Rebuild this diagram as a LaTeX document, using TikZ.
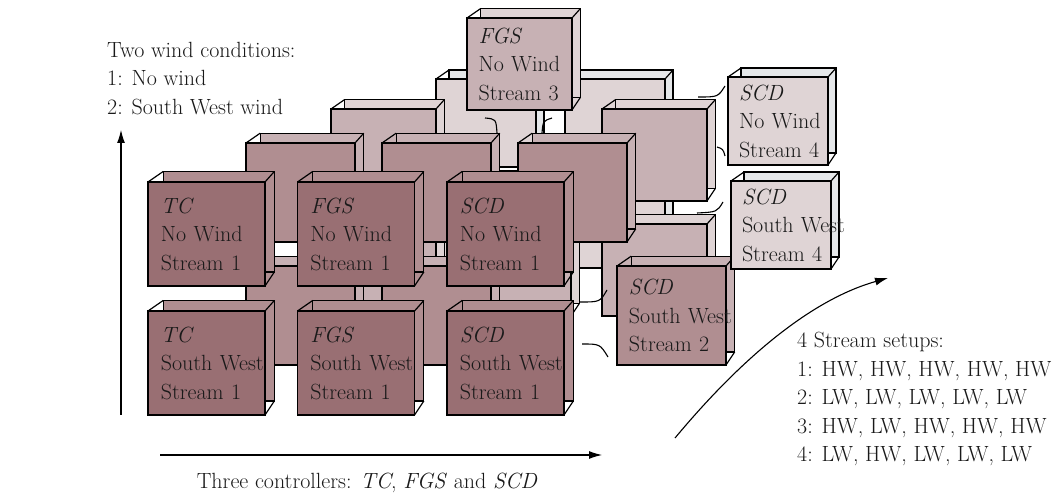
\documentclass[tikz,border=0pt]{standalone}
\usepackage{fontspec}
\usetikzlibrary{arrows.meta}
\definecolor{lay1}{RGB}{153,111,115}
\definecolor{lay2}{RGB}{176,142,145}
\definecolor{lay3}{RGB}{199,177,180}
\definecolor{lay4}{RGB}{223,212,213}
\definecolor{lay5}{RGB}{229,231,233}
\newcommand{\bigfont}{\fontsize{22}{28.5}\selectfont}
\tikzset{
  cubeface/.style={draw, line width=1.2pt, outer sep=0pt, inner ysep=0pt, align=left, font=\bigfont, text=black!90},
  cubeline/.style={line width=1.2pt},
  axis/.style={line width=1.1pt, -{Latex[length=13pt,width=8pt]}},
  pullmark/.style={line width=1.1pt},
  plaintext/.style={align=left, inner sep=0pt, font=\bigfont, text=black!90}
}
% #1 name, #2 left, #3 top, #4 width, #5 height, #6 face colour, #7 side colour, #8 text
\newcommand{\cube}[8]{%
  \pgfmathsetmacro\cubetw{0.78*#4}%
  \filldraw[cubeline, fill=#7] (#2+0.13*#4,#3-0.09*#4) rectangle (#2+1.08*#4,#3+#5-0.12*#4);
  \node[cubeface, fill=#6, minimum width=#4pt, minimum height=#5pt, text width=\cubetw pt, inner xsep=0.11*#4pt] (#1) at (#2+0.5*#4,#3+0.5*#5) {#8};
  \draw[cubeline] (#1.north west) -- ++(0.13*#4,-0.09*#4)
    (#1.north east) -- ++(0.08*#4,-0.09*#4)
    (#1.south east) -- ++(0.08*#4,-0.12*#4);
}
\begin{document}
\begin{tikzpicture}[x=1pt, y=-1pt]
  \useasboundingbox (0,0) rectangle (1053,494);
  % stream 4, the back layer
  \foreach \n/\x/\y in {tcnw/436/79, fgsnw/565/79, tcsw/436/180, fgssw/565/180}
    {\cube{s4\n}{\x}{\y}{100}{88}{lay4}{lay5}{}}
  % stream 3
  \foreach \n/\x/\y in {tcnw/331/109, scdnw/602/109, tcsw/331/224, fgssw/466/224, scdsw/602/224}
    {\cube{s3\n}{\x}{\y}{105}{92}{lay3}{lay4}{}}
  % stream 2
  \foreach \n/\x/\y in {tcnw/246/143, fgsnw/382/143, scdnw/518/143, tcsw/246/266, fgssw/382/266}
    {\cube{s2\n}{\x}{\y}{109}{99}{lay2}{lay3}{}}
  % stream 1, the front layer
  \foreach \c/\cn [count=\i from 0] in {tc/TC, fgs/FGS, scd/SCD}
    \foreach \w/\wn [count=\j from 0] in {nw/No~Wind, sw/South~West}
      {\cube{s1\c\w}{148+149.5*\i}{182+129*\j}{117}{104}{lay1}{lay2}{\textit{\cn}\\\wn\\Stream~1}}
  % pulled out boxes
  \cube{fgsnw3}{467}{18}{105}{92}{lay3}{lay4}{\textit{FGS}\\No~Wind\\Stream~3}
  \cube{scdsw2}{617}{266}{109}{99}{lay2}{lay3}{\textit{SCD}\\South~West\\Stream~2}
  \cube{scdnw4}{728}{77}{100}{88}{lay4}{lay5}{\textit{SCD}\\No~Wind\\Stream~4}
  \cube{scdsw4}{731}{181}{100}{88}{lay4}{lay5}{\textit{SCD}\\South~West\\Stream~4}
  \draw[pullmark] (485,118) .. controls (496,119) .. (497,133);
  \draw[pullmark] (542,133) .. controls (543,121) .. (552,118);
  \draw[pullmark] (698,97) .. controls (718,97) .. (725,86);
  \draw[pullmark] (717,147) .. controls (723,149) .. (725,156);
  \draw[pullmark] (697,213) .. controls (717,212) .. (723,202);
  \draw[pullmark] (580,302) .. controls (600,302) .. (607,290);
  \draw[pullmark] (582,344) .. controls (600,344) .. (608,357);
  % axes
  \coordinate (windbot) at (121,415);
  \coordinate (windtop) at (121,130);
  \coordinate (ctrlleft) at (160,455);
  \coordinate (ctrlright) at (602,455);
  \coordinate (streambot) at (675,438);
  \coordinate (streamtop) at (888,278);
  \draw[axis] (windbot) -- (windtop);
  \draw[axis] (ctrlleft) -- (ctrlright);
  \draw[axis] (streambot) .. controls (740,360) and (810,300) .. (streamtop);
  \node[plaintext, anchor=north west] (windtext) at (107,42) {Two wind conditions:\\1: No wind\\2: South West wind};
  \node[plaintext, anchor=base] (ctrltext) at (367,488) {Three controllers: \textit{TC}, \textit{FGS} and \textit{SCD}};
  \node[plaintext, anchor=north west] (streamtext) at (797,332) {4 Stream setups:\\1: HW, HW, HW, HW, HW\\2: LW, LW, LW, LW, LW\\3: HW, LW, HW, HW, HW\\4: LW, HW, LW, LW, LW};
\end{tikzpicture}
\end{document}
